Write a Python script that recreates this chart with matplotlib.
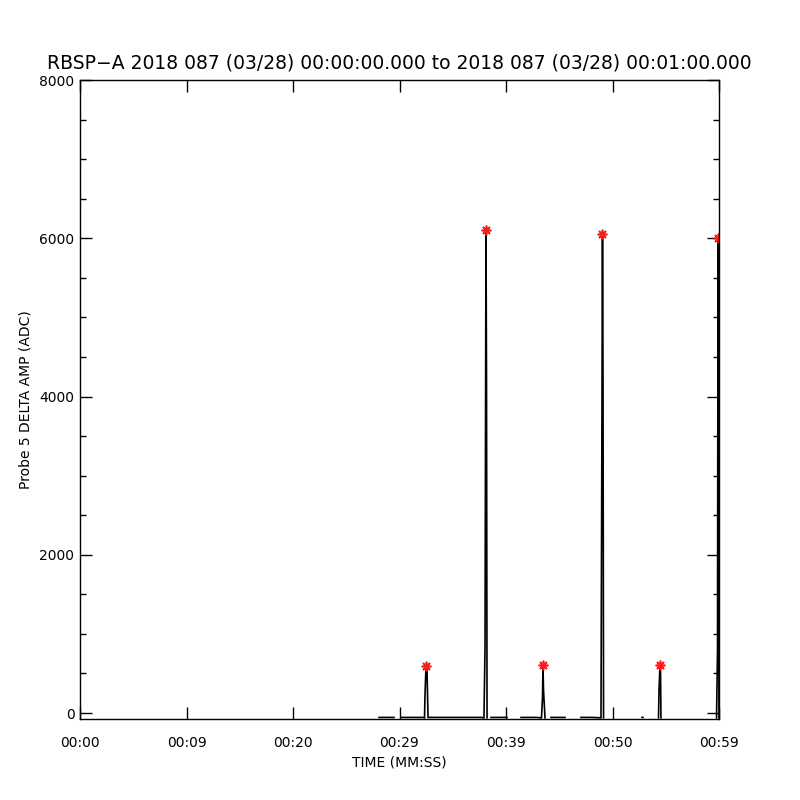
import matplotlib
matplotlib.use("Agg")
import matplotlib.pyplot as plt
import numpy as np

nan = np.nan

# trace of the probe signal (seconds since 00:00:00, ADC counts); nan = gap
trace_time = [
    28.08, 29.48, nan,
    30.14, 32.21, 32.35, 32.39, 32.49, 32.58, 32.68, 37.65, 37.93, 38.03, 38.12, 38.17, 38.22, nan,
    38.59, 40.09, nan,
    41.41, 42.82, 43.33, 43.43, 43.47, 43.52, 43.66, nan,
    44.23, 45.54, nan,
    47.04, 48.08, 48.92, 49.01, 49.06, 49.11, 49.16, nan,
    52.77, 52.86, nan,
    54.32, 54.37, 54.46, 54.51, 54.55, nan,
    59.77, 59.86, 59.91, 59.95, 60.0,
]
trace_adc = [
    -55, -55, nan,
    -55, -55, -60, 210, 600, 550, -55, -55, -60, 830, 6100, 4250, -60, nan,
    -55, -55, nan,
    -55, -55, -60, 200, 610, 300, -60, nan,
    -55, -55, nan,
    -55, -55, -60, 3830, 6055, 4260, -60, nan,
    -55, -55, nan,
    -60, 300, 610, 520, -60, nan,
    -60, 800, 6000, 2600, -60,
]

# flagged peaks (red asterisks)
peak_time = [32.49, 38.12, 43.47, 49.06, 54.46, 59.91]
peak_adc = [600, 6100, 610, 6055, 610, 6000]

xtick_pos = [0, 10, 20, 30, 40, 50, 60]
xtick_labels = ["00:00", "00:09", "00:20", "00:29", "00:39", "00:50", "00:59"]
ytick_pos = [0, 2000, 4000, 6000, 8000]

title = "RBSP\u2212A 2018 087 (03/28) 00:00:00.000 to 2018 087 (03/28) 00:01:00.000"

fig = plt.figure(figsize=(8, 8), dpi=100)
ax = fig.add_axes([0.1, 0.10125, 0.79875, 0.79875])

ax.plot(trace_time, trace_adc, color="black", lw=1.2, solid_joinstyle="miter")
ax.plot(peak_time, peak_adc, linestyle="none", marker=(8, 2, 0), markersize=7,
        markeredgecolor="#ff1a1a", markeredgewidth=1.2, color="#ff1a1a")

ax.set_xlim(0, 60)
ax.set_ylim(-75, 8000)
ax.set_xticks(xtick_pos)
ax.set_xticklabels(xtick_labels)
ax.set_yticks(ytick_pos)
ax.set_yticks(np.arange(0, 8001, 500), minor=True)

ax.tick_params(axis="both", which="major", direction="in", length=8.6, width=1,
               top=True, right=True, labelsize=10)
ax.tick_params(axis="y", which="minor", direction="in", length=4.3, width=1,
               left=True, right=True)
ax.tick_params(axis="x", which="major", pad=12)
ax.tick_params(axis="y", which="major", pad=4)
for s in ax.spines.values():
    s.set_linewidth(1)

ax.set_xlabel("TIME (MM:SS)", fontsize=10, labelpad=4)
ax.set_ylabel("Probe 5 DELTA AMP (ADC)", fontsize=10, labelpad=5)
ax.set_title(title, fontsize=13.5, pad=8)

fig.savefig("out.png", dpi=100)
